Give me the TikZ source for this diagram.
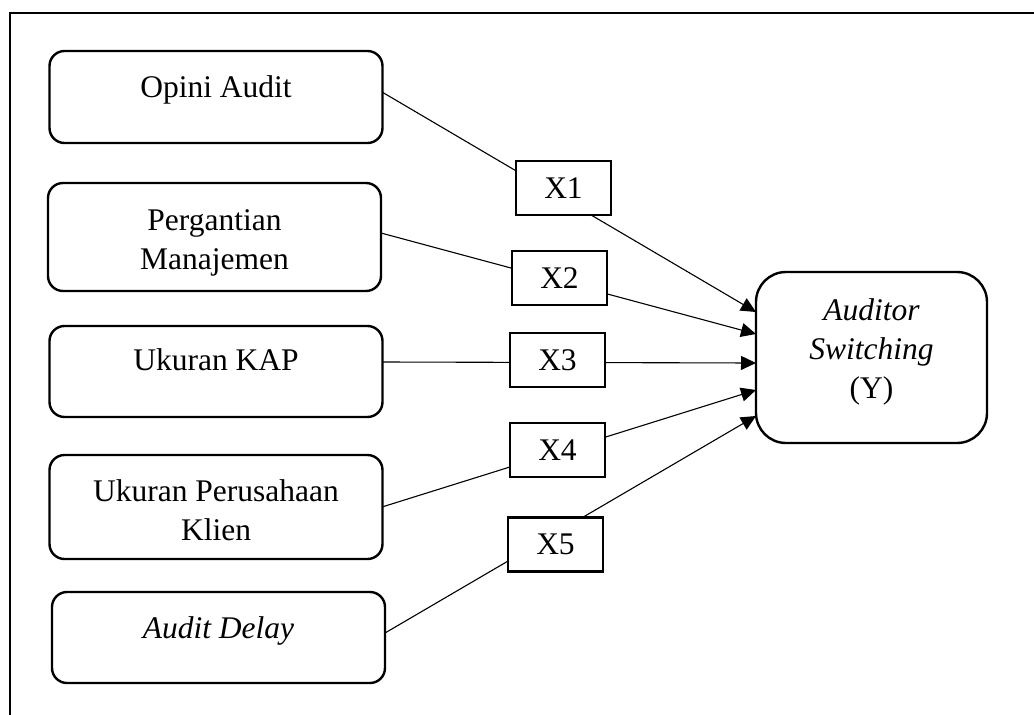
\documentclass[tikz,border=0pt]{standalone}
\usepackage{fontspec}
\setmainfont{Liberation Serif}
\usetikzlibrary{arrows.meta}
\tikzset{
  varbox/.style={draw, line width=2.4pt, rounded corners=15pt, minimum width=333pt, inner sep=0pt},
  ybox/.style={draw, line width=2.4pt, rounded corners=30pt, minimum width=231pt, minimum height=171pt, inner sep=0pt},
  xbox/.style={draw, line width=2.4pt, fill=white, minimum width=95pt, minimum height=54pt, inner sep=0pt, font=\bigfont},
  lbl/.style={anchor=base, align=center, inner sep=0pt, font=\bigfont},
  arr/.style={line width=1.1pt, -{Triangle[length=15pt,width=14pt]}}
}
\newcommand{\bigfont}{\fontsize{31.5}{39}\selectfont}
\begin{document}
\begin{tikzpicture}[x=1pt,y=-1pt]
\useasboundingbox (0,0) rectangle (1034,715);
% frame (only top and left visible)
\draw[line width=2.6pt] (1034,13) -- (10,13) -- (10,715);
% variable boxes
\node[varbox, minimum height=92pt] (b1) at (216,97) {};
\node[varbox, minimum height=108pt] (b2) at (214.5,237) {};
\node[varbox, minimum height=91pt] (b3) at (216,371.5) {};
\node[varbox, minimum height=104pt] (b4) at (216,507) {};
\node[varbox, minimum height=91pt] (b5) at (218.5,637.5) {};
\node[ybox] (Y) at (871.5,357.5) {};
% texts (base anchor = baseline of the last line)
\node[lbl] (t1) at (216,97) {Opini Audit};
\node[lbl] (t2) at (214.5,269) {Pergantian\\Manajemen};
\node[lbl] (t3) at (216,370) {Ukuran KAP};
\node[lbl] (t4) at (216,540) {Ukuran Perusahaan\\Klien};
\node[lbl] (t5) at (218.5,638) {\itshape Audit Delay};
\node[lbl] (ty) at (871.5,398) {\itshape Auditor\\\itshape Switching\\(Y)};
% connector ends
\coordinate (s1) at (382,92);
\coordinate (s2) at (381,233);
\coordinate (s3) at (383,362);
\coordinate (s4) at (382,507);
\coordinate (s5) at (385,633);
\coordinate (e1) at (756,312);
\coordinate (e2) at (756,334);
\coordinate (e3) at (756,363);
\coordinate (e4) at (756,390);
\coordinate (e5) at (756,416);
\draw[arr] (s1) -- (e1);
\draw[arr] (s2) -- (e2);
\draw[arr] (s3) -- (e3);
\draw[arr] (s4) -- (e4);
\draw[arr] (s5) -- (e5);
% X boxes on top of the connectors
\node[xbox] (X1) at (563.5,188) {X1};
\node[xbox] (X2) at (559.5,278) {X2};
\node[xbox] (X3) at (557.5,360) {X3};
\node[xbox] (X4) at (557.5,450) {X4};
\node[xbox] (X5) at (555.5,544.5) {X5};
\end{tikzpicture}
\end{document}
